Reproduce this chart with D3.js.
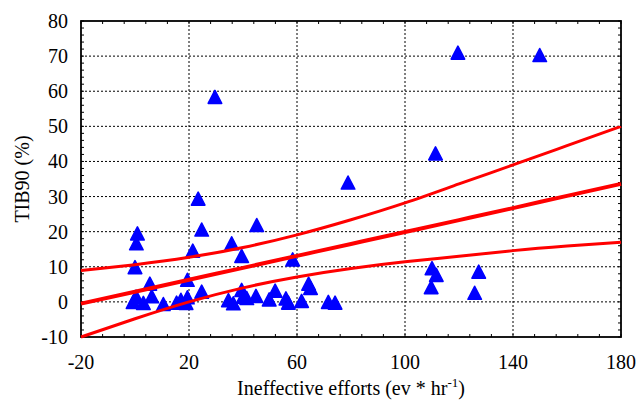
<!DOCTYPE html>
<html>
<head>
<meta charset="utf-8">
<script src="https://cdn.jsdelivr.net/npm/d3@7"></script>
<style>
  body { margin: 0; background: #fff; }
  text { font-family: "Liberation Serif", "Times New Roman", serif; fill: #000; }
</style>
</head>
<body>
<div id="chart"></div>
<script>
const WIDTH = 638;
const HEIGHT = 401;
const MARGINS = {left: 81, right: 17, top: 21, bottom: 64};

// scatter points
const effortX = [0.9, 0.5, 0, 0.4, -0.7, 3.1, 5.5, 6.2, 10.5, 15.4, 17, 18.9, 19.4, 19.4,
  21.4, 23.4, 24.7, 24.7, 29.6, 35.8, 34.6, 36.4, 39.5, 39.5, 40.1, 41.4, 44.8, 45.1,
  49.7, 51.9, 55.9, 56.8, 58.4, 61.7, 64.3, 65, 71.6, 74.1, 78.9, 110, 111.6, 109.7,
  111.3, 119.6, 125.8, 127.3, 149.9];
const tibY = [19.5, 16.7, 9.9, 1.5, 0, -0.3, 5.2, 1.6, -0.6, -0.2, 0.6, -0.3, 1.3, 6.3,
  14.6, 29.4, 20.6, 2.9, 58.4, 16.7, 0.5, -0.4, 13.1, 3.4, 1.5, 1.1, 1.7, 21.9,
  0.7, 3.2, 1.0, -0.2, 12.1, 0.3, 5.2, 4.0, 0, -0.2, 34, 9.6, 7.7, 4.2,
  42.3, 71, 2.6, 8.6, 70.3];

// regression line and confidence band
const fitX = [-20, 0, 20, 40, 60, 80, 100, 120, 140, 160, 180];
const fitMid = [-0.5, 2.9, 6.3, 9.7, 13.1, 16.5, 19.9, 23.3, 26.7, 30.2, 33.6];
const fitUpper = [8.9, 10.6, 12.7, 15.5, 19.1, 23.4, 28.2, 33.6, 39.0, 44.5, 50.0];
const fitLower = [-10, -4.8, 0, 4.0, 7.1, 9.5, 11.4, 13.0, 14.6, 15.9, 17.0];

const xTicks = [-20, 20, 60, 100, 140, 180];
const yTicks = [-10, 0, 10, 20, 30, 40, 50, 60, 70, 80];

const svg = d3.select("#chart").append("svg")
  .attr("width", WIDTH)
  .attr("height", HEIGHT);

const x = d3.scaleLinear().domain([-20, 180]).range([MARGINS.left, WIDTH - MARGINS.right]);
const y = d3.scaleLinear().domain([-10, 80]).range([HEIGHT - MARGINS.bottom, MARGINS.top]);

const x0 = x.range()[0], x1 = x.range()[1];
const y0 = y.range()[0], y1 = y.range()[1];

// dotted grid
const grid = svg.append("g")
  .attr("stroke", "#000")
  .attr("stroke-width", 1)
  .attr("stroke-dasharray", "2,2");
grid.selectAll("line.vx").data(xTicks.slice(1, -1)).enter().append("line")
  .attr("x1", d => x(d)).attr("x2", d => x(d))
  .attr("y1", y1).attr("y2", y0);
grid.selectAll("line.hy").data(yTicks.slice(1, -1)).enter().append("line")
  .attr("x1", x0).attr("x2", x1)
  .attr("y1", d => y(d)).attr("y2", d => y(d));

// minor ticks, pointing inward on all four sides
const minorX = d3.range(-20, 180.1, 8);
const minorY = d3.range(-10, 80.1, 2);
const ticks = svg.append("g").attr("stroke", "#000").attr("stroke-width", 1);
minorX.forEach(v => {
  ticks.append("line").attr("x1", x(v)).attr("x2", x(v)).attr("y1", y0).attr("y2", y0 - 3);
  ticks.append("line").attr("x1", x(v)).attr("x2", x(v)).attr("y1", y1).attr("y2", y1 + 3);
});
minorY.forEach(v => {
  ticks.append("line").attr("x1", x0).attr("x2", x0 + 3).attr("y1", y(v)).attr("y2", y(v));
  ticks.append("line").attr("x1", x1).attr("x2", x1 - 3).attr("y1", y(v)).attr("y2", y(v));
});

// frame
svg.append("rect")
  .attr("x", x0).attr("y", y1)
  .attr("width", x1 - x0).attr("height", y0 - y1)
  .attr("fill", "none")
  .attr("stroke", "#000")
  .attr("stroke-width", 1.8);

// points: triangle centred on its box, a bit taller than equilateral
const triShape = {
  draw(ctx) {
    const w = 13.5, h = 13;
    ctx.moveTo(0, -h / 2);
    ctx.lineTo(w / 2, h / 2);
    ctx.lineTo(-w / 2, h / 2);
    ctx.closePath();
  }
};
const tri = d3.symbol().type(triShape);
svg.append("g").selectAll("path")
  .data(effortX.map((v, i) => [v, tibY[i]]))
  .enter().append("path")
  .attr("d", tri)
  .attr("transform", d => "translate(" + x(d[0]) + "," + y(d[1]) + ")")
  .attr("fill", "#0000ff")
  .attr("stroke", "#0000ff")
  .attr("stroke-width", 1.6)
  .attr("stroke-linejoin", "round");

// fit lines
const line = d3.line().curve(d3.curveNatural).x(d => x(d[0])).y(d => y(d[1]));
[[fitUpper, 3], [fitLower, 3], [fitMid, 4]].forEach(([vals, w]) => {
  svg.append("path")
    .attr("d", line(fitX.map((v, i) => [v, vals[i]])))
    .attr("fill", "none")
    .attr("stroke", "#ff0000")
    .attr("stroke-width", w);
});

// tick labels
svg.append("g").selectAll("text").data(xTicks).enter().append("text")
  .attr("x", d => x(d)).attr("y", 369)
  .attr("text-anchor", "middle")
  .attr("font-size", 20)
  .text(d => d);
svg.append("g").selectAll("text").data(yTicks).enter().append("text")
  .attr("x", 68).attr("y", d => y(d) + 7)
  .attr("text-anchor", "end")
  .attr("font-size", 20)
  .text(d => d);

// axis titles
const xt = svg.append("text")
  .attr("x", (x0 + x1) / 2).attr("y", 395)
  .attr("text-anchor", "middle")
  .attr("font-size", 20);
xt.append("tspan").text("Ineffective efforts (ev * hr");
xt.append("tspan").attr("dy", -8).attr("font-size", 13).text("-1");
xt.append("tspan").attr("dy", 8).text(")");

svg.append("text")
  .attr("transform", "translate(29," + ((y0 + y1) / 2) + ") rotate(-90)")
  .attr("text-anchor", "middle")
  .attr("font-size", 20)
  .text("TIB90 (%)");
</script>
</body>
</html>
